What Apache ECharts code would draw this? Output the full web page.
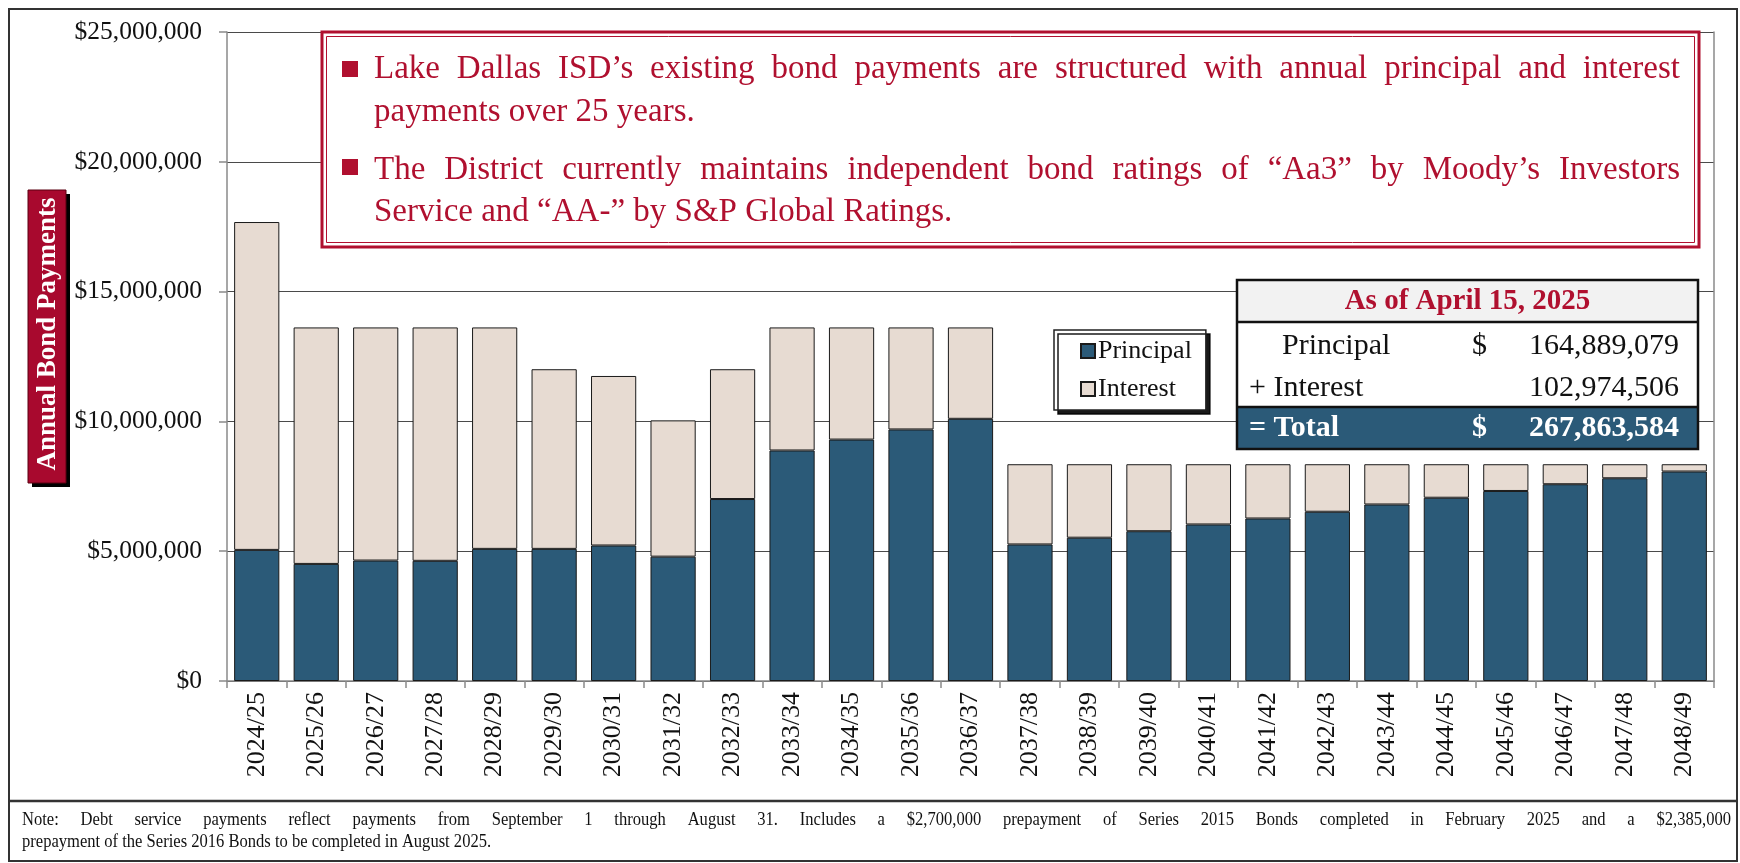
<!DOCTYPE html>
<html><head><meta charset="utf-8">
<script src="https://cdn.jsdelivr.net/npm/echarts@6/dist/echarts.min.js"></script>
<style>html,body{margin:0;padding:0;background:#fff}#c{width:1740px;height:863px}</style>
</head><body><div id="c"></div>
<script>
// ---------- DATA ----------
const categories = ["2024/25","2025/26","2026/27","2027/28","2028/29","2029/30","2030/31","2031/32","2032/33","2033/34","2034/35","2035/36","2036/37","2037/38","2038/39","2039/40","2040/41","2041/42","2042/43","2043/44","2044/45","2045/46","2046/47","2047/48","2048/49"];
const principal = [5050000,4510000,4640000,4630000,5090000,5090000,5220000,4790000,7010000,8880000,9300000,9690000,10100000,5260000,5520000,5770000,6030000,6260000,6520000,6800000,7060000,7320000,7580000,7810000,8070000];
const interest  = [12630000,9110000,8980000,8990000,8530000,6920000,6530000,5250000,5000000,4740000,4320000,3930000,3520000,3090000,2830000,2580000,2320000,2090000,1830000,1550000,1290000,1030000,770000,540000,280000];
const yMax = 25000000;
const yStep = 5000000;
const seriesNames = ["Principal","Interest"];
const axisTitle = "Annual Bond Payments";
const bulletLines = [
  ["Lake Dallas ISD\u2019s existing bond payments are structured with annual principal and interest", "payments over 25 years."],
  ["The District currently maintains independent bond ratings of \u201cAa3\u201d by Moody\u2019s Investors", "Service and \u201cAA-\u201d by S&P Global Ratings."]
];
const tableTitle = "As of April 15, 2025";
const tableLabels = ["Principal", "+ Interest", "= Total"];
const tableDollar = ["$", "", "$"];
const tableValues = ["164,889,079", "102,974,506", "267,863,584"];
const noteLines = [
  "Note: Debt service payments reflect payments from September 1 through August 31. Includes a $2,700,000 prepayment of Series 2015 Bonds completed in February 2025 and a $2,385,000",
  "prepayment of the Series 2016 Bonds to be completed in August 2025."
];

// ---------- STYLE ----------
const SERIF = '"Liberation Serif", "DejaVu Serif", serif';
const RED = '#B0102F';
const BOXRED = '#A8092E';
const BLUE = '#2B5A78';
const TAN = '#E7DBD2';

const cv = document.createElement('canvas').getContext('2d');
function measure(t, font){ cv.font = font; return cv.measureText(t).width; }
function justified(text, x, y, width, font, color, sx){
  sx = sx || 1;
  const words = text.split(' ');
  const ws = words.map(w => measure(w, font) * sx);
  const sum = ws.reduce((a,b)=>a+b,0);
  const gap = (width - sum) / (words.length - 1);
  const out = []; let cx = x;
  words.forEach((w,i) => {
    out.push({type:'text', x:cx, y:y, z:110, scaleX:sx, style:{text:w, font:font, fill:color, textAlign:'left', textVerticalAlign:'middle', verticalAlign:'middle'}});
    cx += ws[i] + gap;
  });
  return out;
}
function txt(t, x, y, font, color, align, extra){
  return Object.assign({type:'text', x:x, y:y, z:110, style:{text:t, font:font, fill:color, textAlign:align||'left', textVerticalAlign:'middle', verticalAlign:'middle'}}, extra||{});
}

const graphics = [];
// outer frame
graphics.push({type:'rect', z:1, shape:{x:9,y:9,width:1728,height:852}, style:{fill:'none', stroke:'#333', lineWidth:2}});
graphics.push({type:'line', z:1, shape:{x1:9,y1:801,x2:1737,y2:801}, style:{stroke:'#333', lineWidth:2.5}});

// y axis title box
graphics.push({type:'rect', z:100, shape:{x:32,y:194,width:38,height:293}, style:{fill:'#000'}});
graphics.push({type:'rect', z:101, shape:{x:28,y:190,width:38,height:293}, style:{fill:BOXRED, stroke:'#5a0010', lineWidth:1}});
graphics.push({type:'text', z:102, x:48, y:334, rotation:Math.PI/2, style:{text:axisTitle, font:'bold 27px '+SERIF, fill:'#fff', textAlign:'center', textVerticalAlign:'middle', verticalAlign:'middle'}});

// text box
graphics.push({type:'rect', z:100, shape:{x:322,y:32,width:1377,height:215}, style:{fill:'#fff', stroke:RED, lineWidth:3}});
graphics.push({type:'rect', z:101, shape:{x:326.5,y:36.5,width:1368,height:206}, style:{fill:'none', stroke:RED, lineWidth:1}});
const boxFont = '33px ' + SERIF;
const lineYs = [[69, 112], [170, 212]];
const bulletYs = [61, 159];
bulletLines.forEach((pair, i) => {
  graphics.push({type:'rect', z:110, shape:{x:342, y:bulletYs[i], width:16, height:16}, style:{fill:RED}});
  graphics.push(...justified(pair[0], 374, lineYs[i][0], 1306, boxFont, RED));
  graphics.push(txt(pair[1], 374, lineYs[i][1], boxFont, RED, 'left'));
});

// table
const TX = 1237, TY = 280, TW = 461;
graphics.push({type:'rect', z:100, shape:{x:TX,y:TY,width:TW,height:42}, style:{fill:'#F2F2F2'}});
graphics.push({type:'rect', z:100, shape:{x:TX,y:TY+42,width:TW,height:85}, style:{fill:'#fff'}});
graphics.push({type:'rect', z:100, shape:{x:TX,y:TY+127,width:TW,height:42}, style:{fill:BLUE}});
graphics.push({type:'rect', z:105, shape:{x:TX,y:TY,width:TW,height:169}, style:{fill:'none', stroke:'#111', lineWidth:2.5}});
graphics.push({type:'line', z:105, shape:{x1:TX,y1:TY+42,x2:TX+TW,y2:TY+42}, style:{stroke:'#111', lineWidth:2.5}});
graphics.push({type:'line', z:105, shape:{x1:TX,y1:TY+127,x2:TX+TW,y2:TY+127}, style:{stroke:'#111', lineWidth:2.5}});
graphics.push(txt(tableTitle, TX+TW/2, TY+22, 'bold 29px '+SERIF, RED, 'center'));
const rowY = [346, 388, 428];
const rowX = [1282, 1249, 1249];
tableLabels.forEach((lab, i) => {
  const last = i === 2;
  const col = last ? '#fff' : '#111';
  const f = (last ? 'bold ' : '') + '30px ' + SERIF;
  graphics.push(txt(lab, rowX[i], rowY[i], f, col, 'left'));
  if (tableDollar[i]) graphics.push(txt(tableDollar[i], 1472, rowY[i], f, col, 'left'));
  graphics.push(txt(tableValues[i], 1679, rowY[i], f, col, 'right'));
});

// note
const noteFont = '18px ' + SERIF;
graphics.push(...justified(noteLines[0], 22, 820, 1709, noteFont, '#111', 0.92));
graphics.push(txt(noteLines[1], 22, 842, noteFont, '#111', 'left', {scaleX:0.92}));

const chart = echarts.init(document.getElementById('c'), null, {renderer:'canvas'});
chart.setOption({
  animation:false,
  backgroundColor:'#fff',
  grid:{left:227, right:26, top:32, bottom:182, containLabel:false},
  legend:{
    data:seriesNames, orient:'vertical', left:1054, top:330,
    icon:'rect', itemWidth:14, itemHeight:14, itemGap:12,
    padding:[8,14,8,26],
    backgroundColor:'#fff', borderColor:'#222', borderWidth:1.5,
    shadowColor:'rgba(0,0,0,0.9)', shadowOffsetX:4, shadowOffsetY:4, shadowBlur:0,
    textStyle:{fontFamily:SERIF, fontSize:26, color:'#111', lineHeight:26, padding:[0,0,0,-2]},
    z:120
  },
  xAxis:{
    type:'category', data:categories,
    axisLine:{show:true, lineStyle:{color:'#8a8a8a', width:1.5}},
    axisTick:{show:true, length:7, lineStyle:{color:'#8a8a8a', width:1.5}},
    axisLabel:{rotate:90, margin:11, fontFamily:SERIF, fontSize:26, color:'#111'},
    splitLine:{show:false}
  },
  yAxis:[{
    type:'value', min:0, max:yMax, interval:yStep,
    axisLine:{show:true, lineStyle:{color:'#8a8a8a', width:1.5}},
    axisTick:{show:true, length:8, lineStyle:{color:'#8a8a8a', width:1.5}},
    axisLabel:{margin:25, fontFamily:SERIF, fontSize:25.5, color:'#111',
      formatter:v => '$' + v.toLocaleString('en-US')},
    splitLine:{show:true, lineStyle:{color:'#4a4a4a', width:1.2}}
  },{
    type:'value', min:0, max:yMax, interval:yStep, position:'right',
    axisLine:{show:true, lineStyle:{color:'#8a8a8a', width:1.5}},
    axisTick:{show:false}, axisLabel:{show:false}, splitLine:{show:false}
  }],
  series:[
    {name:seriesNames[0], type:'bar', stack:'t', data:principal, barCategoryGap:'24%',
     itemStyle:{color:BLUE, borderColor:'#1a1a1a', borderWidth:1}},
    {name:seriesNames[1], type:'bar', stack:'t', data:interest, barCategoryGap:'24%',
     itemStyle:{color:TAN, borderColor:'#1a1a1a', borderWidth:1}}
  ],
  graphic:graphics
});
</script></body></html>
